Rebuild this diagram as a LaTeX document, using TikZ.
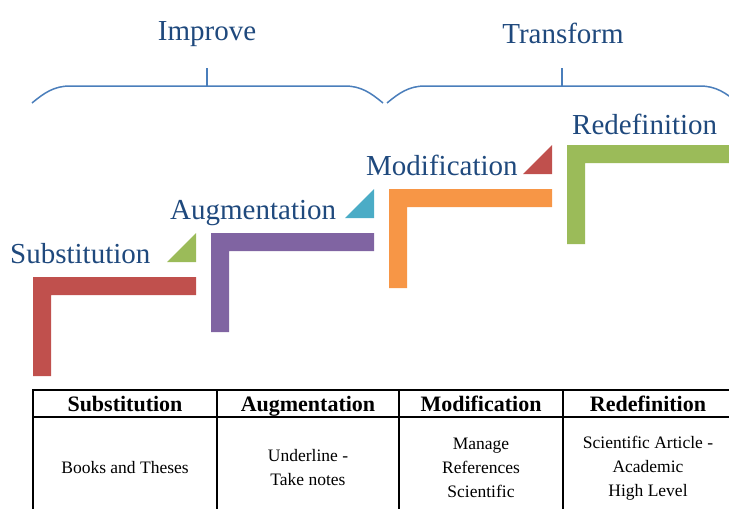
\documentclass[tikz,border=0pt]{standalone}
\usepackage{fontspec}
\setmainfont{Liberation Serif}
\definecolor{txtblue}{HTML}{1F497D}
\definecolor{bracecol}{HTML}{4A7EBB}
\definecolor{sred}{HTML}{C0504D}
\definecolor{sgreen}{HTML}{9BBB59}
\definecolor{spurple}{HTML}{8064A2}
\definecolor{sblue}{HTML}{4BACC6}
\definecolor{sorange}{HTML}{F79646}
\tikzset{
  bracestyle/.style={draw=bracecol, line width=1.5pt},
  biglabel/.style={text=txtblue, inner sep=0pt, font=\fontsize{29}{34}\selectfont},
  hdr/.style={inner sep=0pt, anchor=base, font=\fontsize{22}{25}\selectfont\bfseries},
  cell/.style={inner sep=0pt, align=center, font=\fontsize{17.5}{24}\selectfont},
  tableline/.style={draw=black, line width=1.6pt},
}
\begin{document}
\begin{tikzpicture}[x=1pt,y=-1pt]
\useasboundingbox (0,0) rectangle (729,509);
\clip (0,0) rectangle (729,509);
% braces
\draw[bracestyle] (32,103) .. controls (44,93) and (54,86) .. (70,86) -- (345,86) .. controls (361,86) and (371,93) .. (383,103);
\draw[bracestyle] (207,86) -- (207,68);
\draw[bracestyle] (387,103) .. controls (399,93) and (409,86) .. (425,86) -- (700,86) .. controls (716,86) and (726,93) .. (738,103);
\draw[bracestyle] (562,86) -- (562,68);
\node[biglabel, anchor=base] (improve) at (207,40) {Improve};
\node[biglabel, anchor=base] (transform) at (563,43) {Transform};
% steps
\foreach \c [count=\i from 0] in {sred,spurple,sorange,sgreen} {
  \begin{scope}[shift={(178*\i,-44*\i)}]
    \fill[\c] (33,376) -- (33,277) -- (196,277) -- (196,295) -- (51,295) -- (51,376) -- cycle;
  \end{scope}
}
\foreach \c [count=\i from 0] in {sgreen,sblue,sred} {
  \begin{scope}[shift={(178*\i,-44*\i)}]
    \fill[\c] (167,262) -- (196,262) -- (196,233) -- cycle;
  \end{scope}
}
\node[biglabel, anchor=base west] (lsub) at (10,263) {Substitution};
\node[biglabel, anchor=base west] (laug) at (170,219) {Augmentation};
\node[biglabel, anchor=base west] (lmod) at (366,175) {Modification};
\node[biglabel, anchor=base west] (lred) at (572,134) {Redefinition};
% table
\draw[tableline] (33,509) -- (33,390) -- (729,390);
\draw[tableline] (33,417) -- (729,417);
\draw[tableline] (217,390) -- (217,509);
\draw[tableline] (399,390) -- (399,509);
\draw[tableline] (563,390) -- (563,509);
\node[hdr] (h1) at (125,411) {Substitution};
\node[hdr] (h2) at (308,411) {Augmentation};
\node[hdr] (h3) at (481,411) {Modification};
\node[hdr] (h4) at (648,411) {Redefinition};
\node[cell] (c1) at (125,468) {Books and Theses};
\node[cell] (c2) at (308,468) {Underline -\\Take notes};
\node[cell] (c3) at (481,468) {Manage\\References\\Scientific};
\node[cell] (c4) at (648,468) {Scientific Article -\\Academic\\High Level};
\end{tikzpicture}
\end{document}
